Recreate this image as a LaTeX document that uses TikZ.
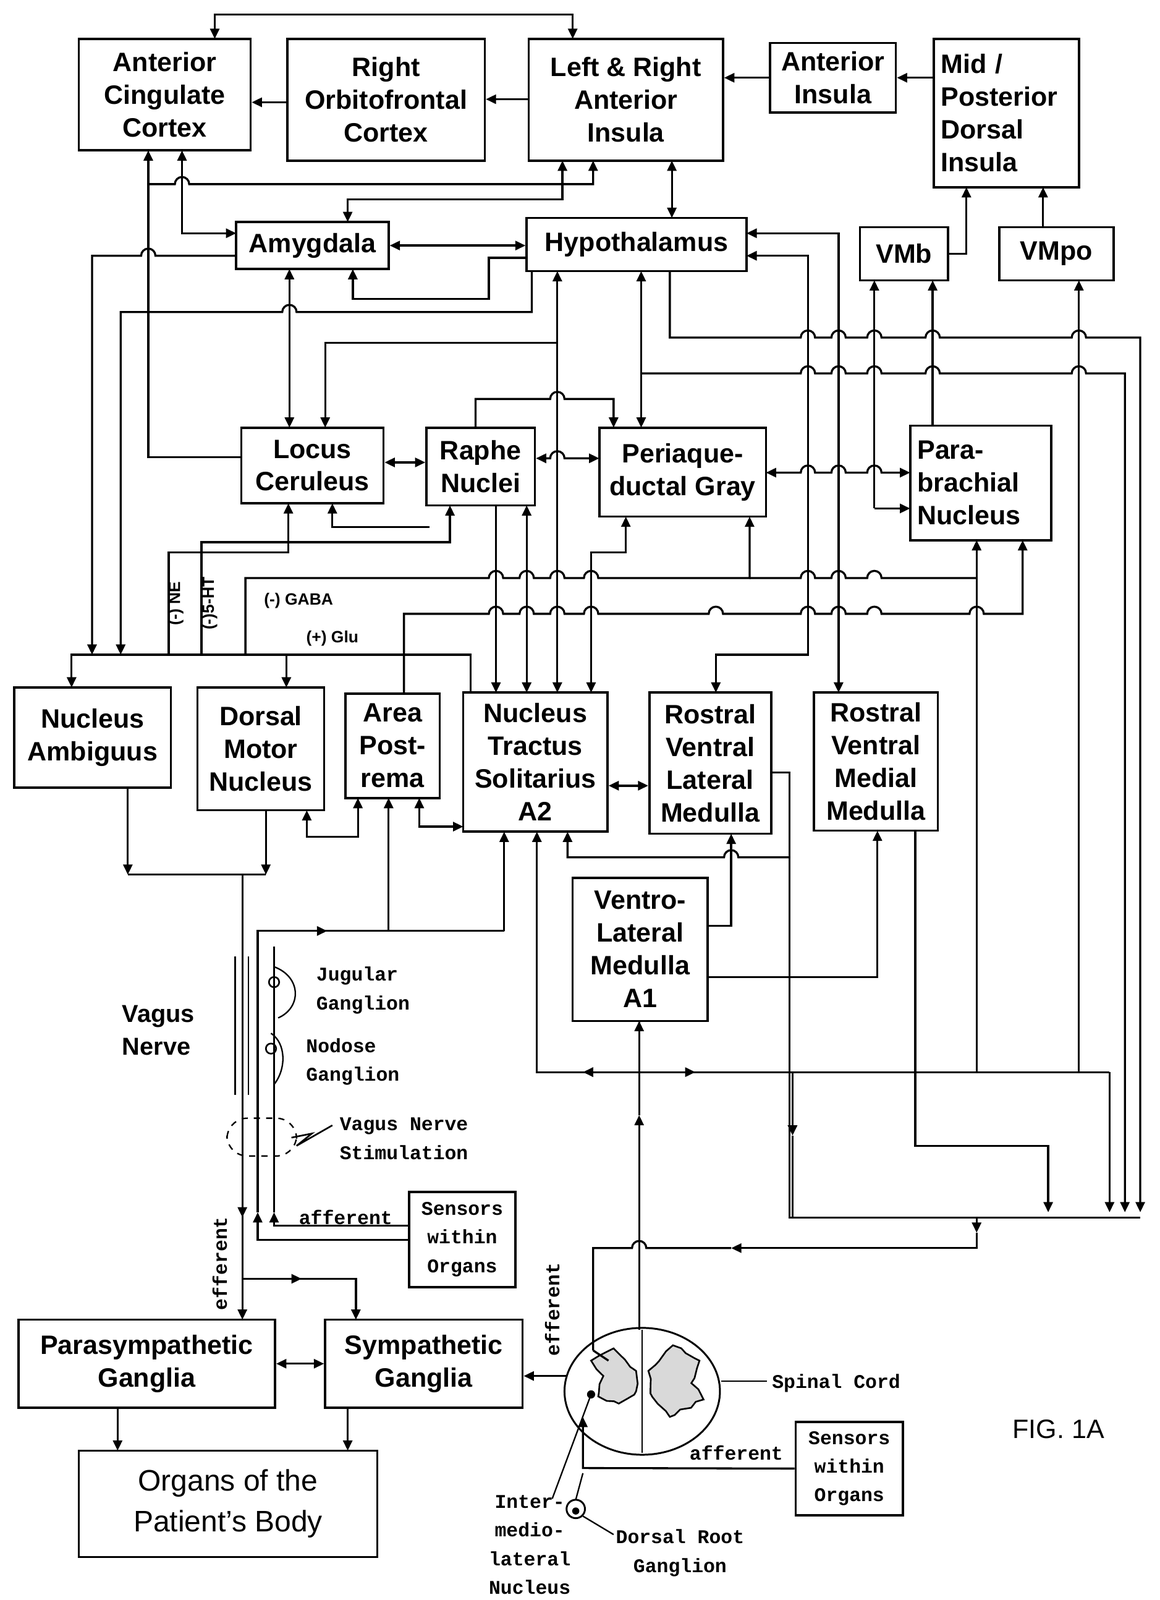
\documentclass[tikz,border=0pt]{standalone}
\usepackage{fontspec}
\setmainfont{Liberation Sans}
\newfontfamily\mono{Liberation Mono}
\usetikzlibrary{arrows.meta,decorations.pathmorphing}
\newcommand\hr[2]{-- ({#1-7},#2) arc[start angle=180,end angle=360,radius=7]}
\newcommand\hl[2]{-- ({#1+7},#2) arc[start angle=0,end angle=-180,radius=7]}
\begin{document}
\begin{tikzpicture}[x=0.5pt,y=-0.5pt,line width=1pt,
 box/.style={draw,line width=1.1pt,inner sep=0pt,align=center,font=\fontsize{13}{16}\selectfont\bfseries},
 sm/.style={font=\mono\fontsize{9.5}{14}\selectfont\bfseries,align=left,inner sep=1pt},
 a/.style={-{Triangle[length=5pt,width=4.5pt]}},
 b/.style={{Triangle[length=5pt,width=4.5pt]}-{Triangle[length=5pt,width=4.5pt]}},
 r/.style={{Triangle[length=5pt,width=4.5pt]}-}]
\useasboundingbox (0,0) rectangle (1134,1564);
% boxes
\node[box,minimum width=84pt,minimum height=54.5pt] (acc) at (161,92.5) {Anterior\\Cingulate\\Cortex};
\node[box,minimum width=96.5pt,minimum height=59.5pt] (roc) at (377.5,97.5) {Right\\Orbitofrontal\\Cortex};
\node[box,minimum width=95pt,minimum height=59.5pt] (lrai) at (612,97.5) {Left \& Right\\Anterior\\Insula};
\node[box,minimum width=61.5pt,minimum height=34pt] (ai) at (814.5,76) {Anterior\\Insula};
\node[box,minimum width=71pt,minimum height=72.5pt,align=left,text width=64pt] (mpdi) at (984,110.5) {Mid /\\Posterior\\Dorsal\\Insula};
\node[box,minimum width=74.5pt,minimum height=23pt] (amy) at (305.5,240) {Amygdala};
\node[box,minimum width=107.5pt,minimum height=26pt] (hyp) at (622.5,239) {Hypothalamus};
\node[box,minimum width=43pt,minimum height=26pt] (vmb) at (884,248) {VMb};
\node[box,minimum width=56pt,minimum height=26pt] (vmpo) at (1033,248) {VMpo};
\node[box,minimum width=69.5pt,minimum height=37pt] (lc) at (305.5,455) {Locus\\Ceruleus};
\node[box,minimum width=53pt,minimum height=38pt] (rn) at (470,456) {Raphe\\Nuclei};
\node[box,minimum width=81.5pt,minimum height=43.5pt] (pag) at (667.5,461.5) {Periaque-\\ductal Gray};
\node[box,minimum width=69pt,minimum height=56pt,align=left,text width=62pt] (pbn) at (959,472) {Para-\\brachial\\Nucleus};
\node[box,minimum width=76.5pt,minimum height=49pt] (na) at (90.5,721) {Nucleus\\Ambiguus};
\node[box,minimum width=62pt,minimum height=60pt] (dmn) at (255,732) {Dorsal\\Motor\\Nucleus};
\node[box,minimum width=46pt,minimum height=51pt] (ap) at (384,729) {Area\\Post-\\rema};
\node[box,minimum width=70.5pt,minimum height=68pt] (nts) at (523.5,745) {Nucleus\\Tractus\\Solitarius\\A2};
\node[box,minimum width=59.5pt,minimum height=69pt] (rvlm) at (694.5,746) {Rostral\\Ventral\\Lateral\\Medulla};
\node[box,minimum width=60.5pt,minimum height=67.5pt] (rvmm) at (856.5,744.5) {Rostral\\Ventral\\Medial\\Medulla};
\node[box,minimum width=66pt,minimum height=70pt] (vlm) at (626,928) {Ventro-\\Lateral\\Medulla\\A1};
\node[box,minimum width=52pt,minimum height=46.5pt,font=\mono\fontsize{9.5}{14}\selectfont\bfseries] (s1) at (452,1211.5) {Sensors\\within\\Organs};
\node[box,minimum width=52.5pt,minimum height=45.5pt,font=\mono\fontsize{9.5}{14}\selectfont\bfseries] (s2) at (830.5,1435.5) {Sensors\\within\\Organs};
\node[box,minimum width=125.5pt,minimum height=43pt] (pg) at (143.5,1333) {Parasympathetic\\Ganglia};
\node[box,minimum width=96.5pt,minimum height=43pt] (sg) at (414.5,1333) {Sympathetic\\Ganglia};
\node[box,minimum width=146pt,minimum height=52pt,font=\fontsize{14.5}{20}\selectfont] (org) at (223,1470) {Organs of the\\Patient's Body};
\node[font=\fontsize{13}{16}\selectfont,inner sep=0] (fig) at (1035,1397) {FIG. 1A};
% top connectors
\draw[b] (210,38) -- (210,14) -- (560,14) -- (560,38);
\draw[a] (lrai.west |- 0,97) -- (roc.east |- 0,97);
\draw[a] (roc.west |- 0,100) -- (acc.east |- 0,100);
\draw[a] (ai.west) -- (lrai.east |- ai.west);
\draw[a] (mpdi.west |- ai.west) -- (ai.east);
\draw[a] (vmb.east) -- (945,248) -- (945,183);
\draw[a] (1020,222) -- (1020,183);
\draw[a] (lc.west |- 0,447) -- (145,447) -- (145,147);
\draw[a] (145,180) \hr{178}{180} -- (580,180) -- (580,157);
\draw[b] (178,147) -- (178,228) -- (231,228);
\draw[b] (550,157) -- (550,195) -- (340,195) -- (340,217);
\draw[b] (657,157) -- (657,213);
\draw[b] (amy.east) -- (hyp.west |- amy.east);
\draw[a] (515,252) -- (478,252) -- (478,292) -- (345,292) -- (345,263);
\draw[b] (283,263) -- (283,418);
\draw[a] (231,250) \hl{145}{250} -- (90,250) -- (90,640);
\draw[a] (520,265) -- (520,305) \hl{283}{305} -- (118,305) -- (118,640);
\draw[r] (318,418) -- (318,335) -- (545,335);
% verticals to NTS
\draw[b] (545,265) -- (545,677);
\draw[b] (515,494) -- (515,677);
\draw[a] (485,494) -- (485,677);
\draw[b] (578,677) -- (578,540) -- (612,540) -- (612,505);
\draw[a] (465,418) -- (465,390) \hr{545}{390} -- (600,390) -- (600,418);
\draw[b] (627,265) -- (627,418);
\draw[b] (rn.east |- 0,448) \hr{545}{448} -- (586,448);
\draw[b] (lc.east |- 0,452) -- (rn.west |- 0,452);
\draw[b] (749,462) \hr{790}{462} \hr{820}{462} \hr{855}{462} -- (890,462);
\draw[a] (855,497) -- (890,497);
\draw[a] (855,497) -- (855,274);
\draw[a] (912,416) -- (912,274);
\draw[a] (1055,1048) -- (1055,274);
\draw[a] (655,265) -- (655,330) \hr{790}{330} \hr{820}{330} \hr{855}{330} \hr{912}{330} \hr{1055}{330} -- (1115,330) -- (1115,1185);
\draw[a] (627,365) \hr{790}{365} \hr{820}{365} \hr{855}{365} \hr{912}{365} \hr{1055}{365} -- (1100,365) -- (1100,1185);
\draw[b] (730,228) -- (820,228) -- (820,677);
\draw[b] (730,250) -- (790,250) -- (790,640) -- (700,640) -- (700,677);
% medulla level bus
\draw[a] (460,677) -- (460,640) -- (70,640) -- (70,672);
\draw[a] (280,640) -- (280,672);
\draw[r] (282,492) -- (282,540) -- (165,540) -- (165,640);
\draw[r] (440,494) -- (440,530) -- (197,530) -- (197,640);
\draw[r] (733,505) -- (733,565) \hl{578}{565} \hl{545}{565} \hl{515}{565} \hl{485}{565} -- (240,565) -- (240,640);
\draw (733,565) \hr{790}{565} \hr{820}{565} \hr{855}{565} -- (955,565);
\draw[a] (395,677) -- (395,600) \hr{485}{600} \hr{515}{600} \hr{545}{600} \hr{578}{600} \hr{700}{600} \hr{790}{600} \hr{820}{600} \hr{855}{600} \hr{955}{600} -- (1000,600) -- (1000,528);
\draw[a] (955,1048) -- (955,528);
\draw[r] (325,492) -- (325,515) -- (420,515);
% labels of bus
\node[font=\fontsize{8}{9}\selectfont\bfseries,rotate=90] (ne) at (172,590) {(-) NE};
\node[font=\fontsize{8}{9}\selectfont\bfseries,rotate=90] (ht) at (205,590) {(-)5-HT};
\node[font=\fontsize{8}{9}\selectfont\bfseries] (gaba) at (292,587) {(-) GABA};
\node[font=\fontsize{8}{9}\selectfont\bfseries] (glu) at (325,624) {(+) Glu};
% lower medulla
\draw[b] (nts.east |- 0,768) -- (rvlm.west |- 0,768);
\draw[b] (300,792) -- (300,818) -- (350,818) -- (350,780);
\draw[b] (410,780) -- (410,808) -- (453,808);
\draw[a] (692,905) -- (715,905) -- (715,815);
\draw[a] (692,955) -- (858,955) -- (858,812);
\draw[r] (555,813) -- (555,838) \hr{715}{838} -- (772,838);
\draw (754,755) -- (772,755) -- (772,1190) -- (1115,1190);
\draw[a] (895,812) -- (895,1120) -- (1025,1120) -- (1025,1185);
\draw[a] (1085,1048) -- (1085,1185);
\draw[r] (525,813) -- (525,1048) -- (580,1048);
\draw[a] (580,1048) -- (570,1048);
\draw (580,1048) -- (1085,1048);
\draw[a] (660,1048) -- (680,1048);
\draw[a] (775,1048) -- (775,1110);
\draw (775,1110) -- (775,1190);
\draw[a] (955,1190) -- (955,1205);
\draw[a] (955,1205) -- (955,1220) -- (715,1220);
\draw (715,1220) -- (632,1220) arc[start angle=0,end angle=-180,radius=7] -- (580,1220) -- (580,1320);
\draw[a] (625,1300) -- (625,1090);
\draw (625,1090) -- (625,998);
\draw[a] (625,1010) -- (625,998);
% vagus
\draw[a] (125,770) -- (125,855);
\draw[a] (260,792) -- (260,855);
\draw (125,855) -- (260,855);
\draw[a] (237,855) -- (237,1290);
\draw[a] (237,1250) -- (348,1250) -- (348,1290);
\draw[a] (237,1250) -- (295,1250);
\draw[a] (237,1170) -- (237,1190);
\draw[a] (s1.west |- 0,1212) -- (252,1212) -- (252,1185);
\draw (252,1185) -- (252,910) -- (493,910);
\draw[a] (252,910) -- (320,910);
\draw[a] (493,910) -- (493,813);
\draw[a] (380,910) -- (380,780);
\draw[a] (400,1198) -- (268,1198) -- (268,1185);
\draw (268,1185) -- (268,925);
\draw[line width=0.8pt] (268,960) circle[radius=5] (265,1025) circle[radius=5];
\draw[line width=0.7pt] (268,945) .. controls (295,955) and (295,985) .. (272,995);
\draw[line width=0.7pt] (265,1010) .. controls (280,1020) and (280,1045) .. (268,1060);
\draw[line width=0.7pt] (230,935) -- (230,1070) (243,935) -- (243,1070);
\draw[line width=0.7pt,dashed,rounded corners=10pt] (222,1093) rectangle (290,1130);
\draw[line width=0.8pt] (325,1100) -- (290,1120) -- (305,1108) -- (285,1112);
\node[font=\fontsize{12}{16}\selectfont\bfseries,align=left] (vn) at (155,1007) {Vagus\\Nerve};
\node[sm] (jg) at (355,968) {Jugular\\Ganglion};
\node[sm] (ng) at (345,1038) {Nodose\\Ganglion};
\node[sm] (vns) at (395,1113) {Vagus Nerve\\Stimulation};
\node[sm] (aff1) at (338,1190) {afferent};
\node[sm,rotate=90] (eff1) at (215,1235) {efferent};
% ganglia
\draw[b] (pg.east) -- (sg.west);
\draw[a] (115,1376) -- (115,1418);
\draw[a] (340,1376) -- (340,1418);
% spinal cord
\draw[line width=0.9pt] (628,1360) ellipse[x radius=76,y radius=62];
\draw[line width=0.8pt,fill=black!15,decorate,decoration={random steps,segment length=4pt,amplitude=1pt}] (622,1340) -- (600,1318) -- (578,1330) -- (590,1345) -- (585,1365) -- (605,1372) -- (622,1360) -- cycle;
\draw[line width=0.8pt,fill=black!15,decorate,decoration={random steps,segment length=4pt,amplitude=1pt}] (634,1340) -- (658,1315) -- (684,1330) -- (676,1352) -- (688,1368) -- (655,1385) -- (636,1362) -- cycle;
\draw[line width=0.7pt] (628,1300) -- (628,1420);
\draw[a] (555,1345) -- (sg.east |- 0,1345);
\draw (580,1320) -- (595,1330);
\node[sm,rotate=90] (eff2) at (540,1280) {efferent};
\draw[a] (s2.west) -- (570,1435) -- (570,1385);
\node[sm] (aff2) at (720,1420) {afferent};
\draw[line width=0.9pt] (563,1475) circle[radius=9];
\fill (563,1477) circle[radius=3.5];
\draw[line width=0.7pt] (563,1466) -- (570,1440);
\fill (578,1363) circle[radius=4];
\draw[line width=0.7pt] (705,1350) -- (750,1350);
\node[sm,anchor=west] (sc) at (752,1352) {Spinal Cord};
\draw[line width=0.7pt] (578,1363) -- (540,1465);
\node[sm,align=center] (iml) at (518,1510) {Inter-\\medio-\\lateral\\Nucleus};
\draw[line width=0.7pt] (570,1482) -- (600,1500);
\node[sm,align=center] (drg) at (665,1518) {Dorsal Root\\Ganglion};
\end{tikzpicture}
\end{document}
